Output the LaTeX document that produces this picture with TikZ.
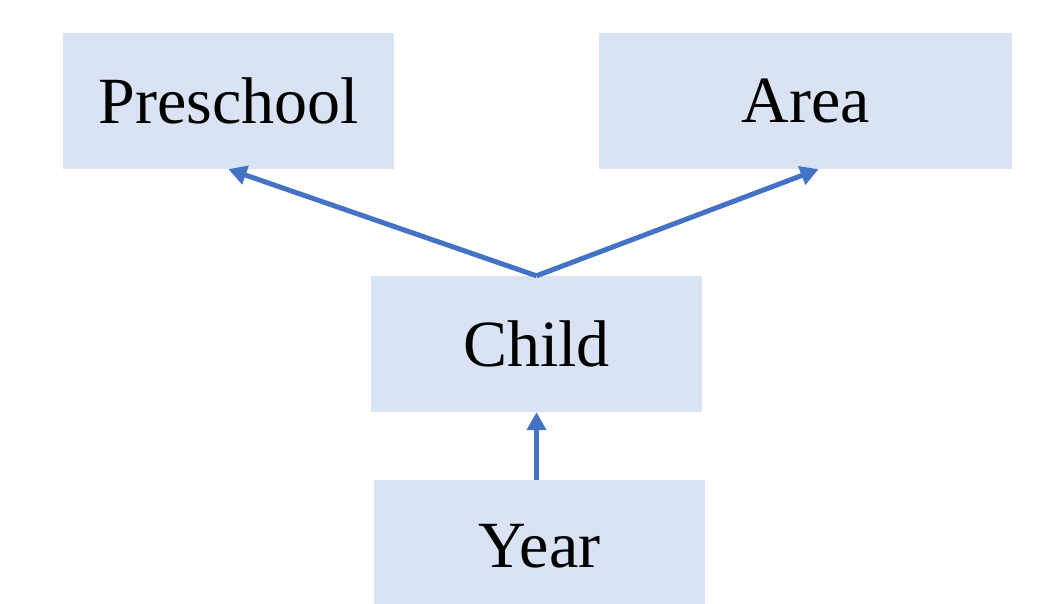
\documentclass[tikz,border=0pt]{standalone}
\usepackage{fontspec}
\setmainfont{Liberation Serif}
\usetikzlibrary{arrows.meta,calc}
\definecolor{boxfill}{HTML}{DAE3F3}
\definecolor{arrowblue}{HTML}{4472C4}
\tikzset{
  entity/.style={fill=boxfill, draw=none, minimum height=136pt, inner sep=0pt, font=\fontsize{66pt}{70pt}\selectfont},
  link/.style={draw=arrowblue, line width=5pt, -{Triangle[length=18pt,width=19pt]}}
}
\begin{document}
\begin{tikzpicture}[x=1pt,y=-1pt]
\useasboundingbox (0,0) rectangle (1046,604);
\clip (0,0) rectangle (1046,604);
\node[entity, minimum width=331pt] (pre) at (228.5,101) {\raisebox{-3pt}{Preschool}};
\node[entity, minimum width=413pt] (area) at (805.5,101) {\raisebox{-3pt}{Area}};
\node[entity, minimum width=331pt] (child) at (536.5,344) {\raisebox{-3pt}{Child}};
\node[entity, minimum width=331pt] (year) at (539.5,548) {\raisebox{4pt}{Year}};
\coordinate (areatip) at ($(area.south)+(13,0)$);
\draw[link] (child.north) -- (pre.south);
\draw[link] (child.north) -- (areatip);
\draw[link] (year.north -| child.south) -- (child.south);
\end{tikzpicture}
\end{document}
